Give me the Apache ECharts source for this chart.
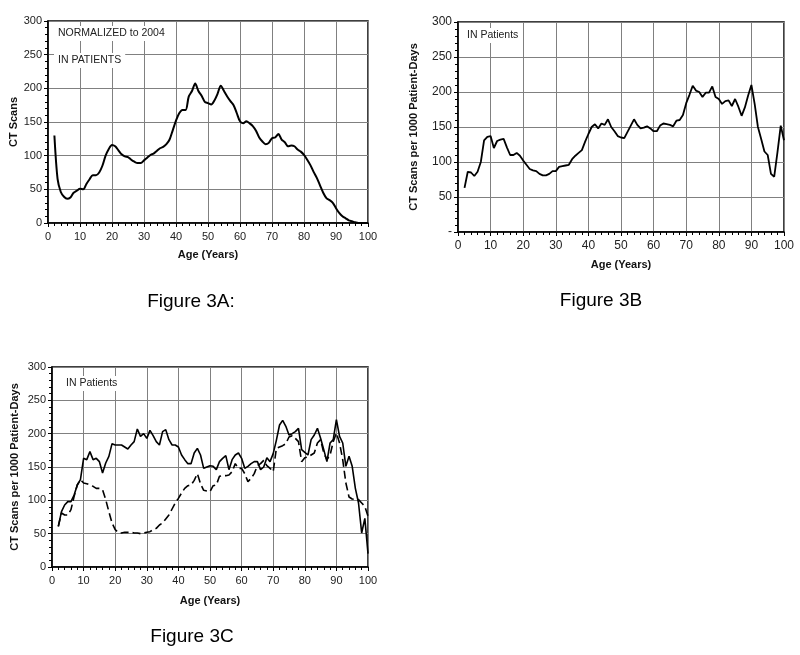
<!DOCTYPE html>
<html>
<head>
<meta charset="utf-8">
<script src="https://cdn.jsdelivr.net/npm/echarts@6/dist/echarts.min.js"></script>
<style>
  html, body { margin: 0; background: #fff; }
  #main { width: 800px; height: 655px; }
</style>
</head>
<body>
<div id="main"></div>
<script>
// ages 2..100, one point per year
const ages = [
  2, 3, 4, 5, 6, 7, 8, 9, 10, 11,
  12, 13, 14, 15, 16, 17, 18, 19, 20, 21,
  22, 23, 24, 25, 26, 27, 28, 29, 30, 31,
  32, 33, 34, 35, 36, 37, 38, 39, 40, 41,
  42, 43, 44, 45, 46, 47, 48, 49, 50, 51,
  52, 53, 54, 55, 56, 57, 58, 59, 60, 61,
  62, 63, 64, 65, 66, 67, 68, 69, 70, 71,
  72, 73, 74, 75, 76, 77, 78, 79, 80, 81,
  82, 83, 84, 85, 86, 87, 88, 89, 90, 91,
  92, 93, 94, 95, 96, 97, 98, 99, 100
]

// Figure 3A - CT scans, normalized to 2004
const scansA = [
  130, 65, 46, 39, 36, 38, 45, 48, 51, 50,
  58, 65, 71, 71, 75, 85, 100, 110, 116, 114,
  108, 102, 99, 98, 94, 91, 89, 89, 93, 97,
  101, 103, 107, 111, 113, 117, 124, 138, 152, 163,
  168, 168, 188, 196, 207, 196, 189, 180, 178, 176,
  182, 192, 204, 196, 188, 181, 175, 163, 151, 148,
  151, 148, 144, 137, 127, 121, 117, 119, 126, 127,
  132, 124, 120, 114, 115, 114, 109, 106, 101, 94,
  86, 76, 67, 56, 45, 37, 34, 30, 22, 15,
  10, 7, 4, 2.5, 1, 0, 0, 0, 0
]

// Figure 3B - scans per 1000 patient-days
const scansB = [
  63, 86, 85, 80, 86, 100, 131, 136, 137, 120,
  130, 132, 133, 121, 110, 110, 113, 109, 102, 96,
  90, 88, 87, 83, 81, 81, 83, 87, 87, 93,
  94, 95, 96, 104, 109, 113, 117, 129, 140, 150,
  154, 148, 155, 153, 161, 150, 144, 137, 135, 134,
  143, 152, 161, 153, 148, 149, 151, 148, 144, 144,
  152, 155, 154, 153, 151, 159, 160, 167, 184, 196,
  209, 202, 200, 193, 199, 199, 208, 193, 190, 183,
  187, 188, 180, 190, 179, 166, 178, 195, 210, 183,
  150, 133, 115, 110, 83, 79, 114, 152, 131
]

// Figure 3C - two series, solid and dashed
const scansC1 = [
  61, 83, 93, 98, 98, 108, 123, 131, 163, 161,
  173, 161, 163, 158, 141, 156, 166, 185, 183, 183,
  183, 180, 177, 183, 188, 207, 196, 200, 193, 205,
  197, 188, 183, 203, 206, 191, 183, 183, 180, 168,
  161, 155, 155, 171, 178, 168, 148, 150, 152, 151,
  146, 158, 163, 167, 146, 161, 168, 171, 163, 148,
  151, 155, 158, 158, 146, 150, 164, 158, 170, 190,
  213, 220, 211, 198, 200, 203, 208, 176, 172, 168,
  191, 198, 208, 193, 176, 158, 186, 191, 221, 196,
  186, 151, 166, 151, 118, 96, 51, 73, 20
]
const scansC2 = [
  61, 81, 78, 78, 86, 106, 123, 131, 126, 125,
  123, 121, 118, 118, 116, 101, 83, 66, 56, 52,
  51, 52, 52, 52, 51, 51, 50, 51, 52, 53,
  56, 58, 63, 66, 72, 78, 87, 96, 103, 111,
  118, 122, 123, 130, 140, 125, 115, 114, 113, 122,
  123, 136, 137, 137, 138, 143, 155, 148, 148, 140,
  128, 133, 140, 152, 155, 160, 152, 148, 143, 178,
  180, 182, 185, 195, 197, 193, 188, 158, 164, 165,
  168, 171, 186, 191, 171, 161, 168, 188, 201, 186,
  161, 126, 105, 102, 101, 101, 96, 91, 76
]

const font = 'Liberation Sans, Arial, sans-serif'
const toPairs = vals => vals.map((v, i) => [ages[i], v])

const makeX = (gridIndex, fontSize, nameGap) => ({
  gridIndex,
  type: 'value',
  min: 0,
  max: 100,
  interval: 10,
  name: 'Age (Years)',
  nameLocation: 'middle',
  nameGap,
  nameTextStyle: { fontFamily: font, fontWeight: 'bold', fontSize: 11, color: '#111' },
  axisLine: { onZero: false, lineStyle: { color: '#000', width: 1.5 } },
  axisTick: { length: 4, lineStyle: { color: '#000' } },
  minorTick: { show: true, splitNumber: 5, length: 3, lineStyle: { color: '#000' } },
  axisLabel: { fontFamily: font, fontSize, color: '#222', margin: 8 },
  splitLine: { lineStyle: { color: '#808080', width: 1 } }
})

const makeY = (gridIndex, name, fontSize, nameGap, zeroDash) => ({
  gridIndex,
  type: 'value',
  min: 0,
  max: 300,
  interval: 50,
  name,
  nameLocation: 'middle',
  nameGap,
  nameTextStyle: { fontFamily: font, fontWeight: 'bold', fontSize: 11, color: '#111' },
  axisLine: { show: true, onZero: false, lineStyle: { color: '#000', width: 1.5 } },
  axisTick: { show: true, length: 4, lineStyle: { color: '#000' } },
  minorTick: { show: true, splitNumber: 5, length: 3, lineStyle: { color: '#000' } },
  axisLabel: {
    fontFamily: font, fontSize, color: '#222', margin: 6,
    formatter: v => (zeroDash && v === 0 ? '-' : String(v))
  },
  splitLine: { lineStyle: { color: '#808080', width: 1 } }
})

// white boxed notes inside the plots
const boxText = (x, y, text) => ({
  type: 'text',
  left: x,
  top: y,
  z: 10,
  style: {
    text,
    fill: '#222',
    font: '10.5px ' + font,
    backgroundColor: '#fff',
    padding: [2, 4]
  }
})

const caption = (x, y, text) => ({
  type: 'text',
  x,
  y,
  style: {
    text,
    fill: '#000',
    font: '19px ' + font,
    align: 'center',
    verticalAlign: 'middle'
  }
})

const chart = echarts.init(document.getElementById('main'))

const option = {
  animation: false,
  backgroundColor: '#fff',
  grid: [
    { left: 48, top: 21, width: 320, height: 202, show: true, borderColor: '#000', borderWidth: 1.5 },
    { left: 458, top: 22, width: 326, height: 210, show: true, borderColor: '#000', borderWidth: 1.5 },
    { left: 52, top: 367, width: 316, height: 200, show: true, borderColor: '#000', borderWidth: 1.5 }
  ],
  xAxis: [makeX(0, 11, 26), makeX(1, 12, 27), makeX(2, 11, 28)],
  yAxis: [
    makeY(0, 'CT Scans', 11, 29, false),
    makeY(1, 'CT Scans per 1000 Patient-Days', 12, 39, true),
    makeY(2, 'CT Scans per 1000 Patient-Days', 11, 32, false)
  ],
  series: [
    {
      type: 'line', xAxisIndex: 0, yAxisIndex: 0, data: toPairs(scansA),
      showSymbol: false, smooth: 0.3,
      lineStyle: { color: '#000', width: 2 }
    },
    {
      type: 'line', xAxisIndex: 1, yAxisIndex: 1, data: toPairs(scansB),
      showSymbol: false,
      lineStyle: { color: '#000', width: 1.8 }
    },
    {
      type: 'line', xAxisIndex: 2, yAxisIndex: 2, data: toPairs(scansC2),
      showSymbol: false,
      lineStyle: { color: '#000', width: 1.6, type: [8, 4] }
    },
    {
      type: 'line', xAxisIndex: 2, yAxisIndex: 2, data: toPairs(scansC1),
      showSymbol: false,
      lineStyle: { color: '#000', width: 1.6 }
    }
  ],
  graphic: [
    boxText(54, 26, 'NORMALIZED to 2004'),
    boxText(54, 53, 'IN PATIENTS'),
    boxText(463, 28, 'IN Patients'),
    boxText(62, 376, 'IN Patients'),
    caption(191, 302, 'Figure 3A:'),
    caption(601, 301, 'Figure 3B'),
    caption(192, 637, 'Figure 3C')
  ]
}

chart.setOption(option)
</script>
</body>
</html>
